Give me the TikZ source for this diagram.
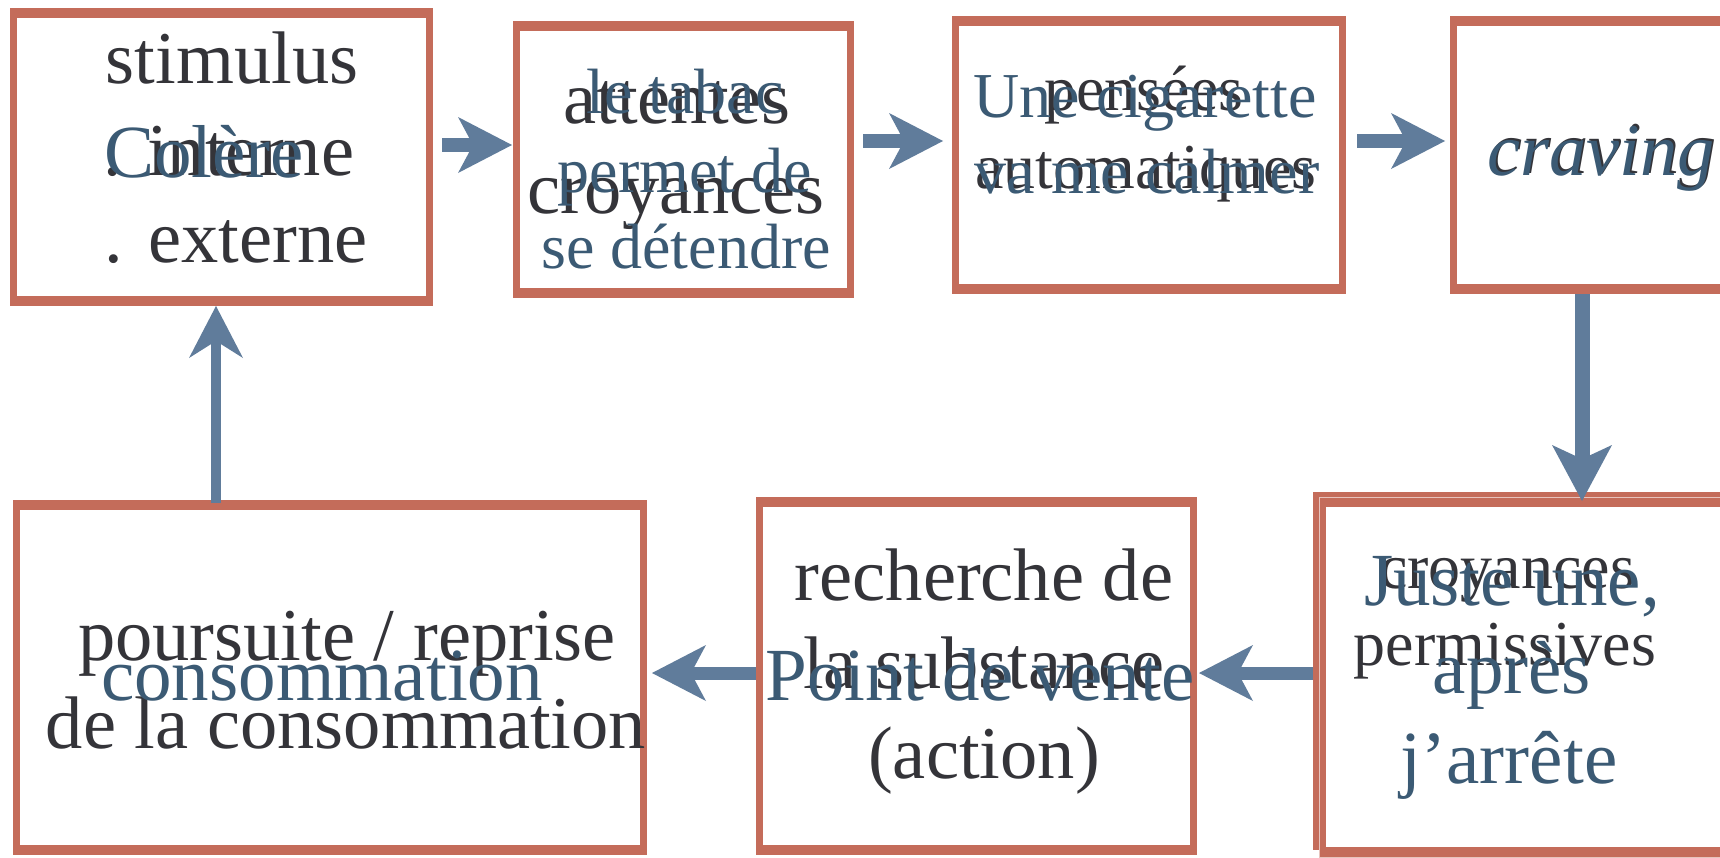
\documentclass[tikz,border=0pt]{standalone}
\usepackage{fontspec}
\setmainfont{Liberation Serif}
\usetikzlibrary{arrows.meta}
\definecolor{brd}{RGB}{196,108,90}
\definecolor{arr}{RGB}{96,124,155}
\definecolor{dk}{RGB}{52,52,57}
\definecolor{bl}{RGB}{59,90,116}
\begin{document}
\begin{tikzpicture}[x=1pt,y=-1pt,
  box/.style={rectangle, fill=brd, inner sep=0pt, outer sep=0pt,
    path picture={\fill[white] ([shift={(7pt,-10pt)}]path picture bounding box.north west) rectangle ([shift={(-7pt,10pt)}]path picture bounding box.south east);}},
  txt/.style={anchor=base, inner sep=0pt, outer sep=0pt},
  dkbig/.style={txt, text=dk, font=\fontsize{74.5}{88}\selectfont},
  dksmall/.style={txt, text=dk, font=\fontsize{64}{76}\selectfont},
  blbig/.style={txt, text=bl, font=\fontsize{75}{88}\selectfont},
  blsmall/.style={txt, text=bl, font=\fontsize{64}{76}\selectfont},
  harr/.style={draw=arr, line width=14pt, -{Stealth[length=54pt, width=56pt, inset=15pt, line width=0pt]}},
  varr/.style={draw=arr, line width=15pt, -{Stealth[length=56pt, width=60pt, inset=14pt, line width=0pt]}},
  uarr/.style={draw=arr, line width=10pt, -{Stealth[length=52pt, width=54pt, inset=17pt, line width=0pt]}}
]
\useasboundingbox (0,0) rectangle (1720,857);
\fill[white] (0,0) rectangle (1720,857);

% boxes
\node[box, minimum width=423pt, minimum height=298pt] (b1) at (221.5,157) {};
\node[box, minimum width=341pt, minimum height=277pt] (b2) at (683.5,159.5) {};
\node[box, minimum width=394pt, minimum height=278pt] (b3) at (1149,155) {};
\node[box, minimum width=310pt, minimum height=278pt] (b4) at (1605,155) {};
\node[box, minimum width=447pt, minimum height=358pt] (b5a) at (1536.5,671) {};
\node[box, minimum width=447pt, minimum height=360pt, draw=brd!40!white, line width=1pt] (b5b) at (1542.5,677) {};
\node[box, minimum width=441pt, minimum height=358pt] (b6) at (976.5,676) {};
\node[box, minimum width=634pt, minimum height=355pt] (b7) at (330,677.5) {};

% box 1
\node[dkbig] (t1a) at (232,83) {stimulus};
\node[dkbig] (t1b) at (229,175) {. interne};
\node[dkbig] (t1c) at (236,262) {. externe};
\node[blbig] (c1a) at (204,177) {Colère};

% box 2
\node[dkbig] (t2a) at (677,123) {attentes};
\node[dkbig] (t2b) at (676,213) {croyances};
\node[blsmall] (c2a) at (685,113) {le tabac};
\node[blsmall] (c2b) at (685,192) {permet de};
\node[blsmall] (c2c) at (686,268) {se détendre};

% box 3
\node[dksmall] (t3a) at (1144,110) {pensées};
\node[dksmall] (t3b) at (1146,188) {automatiques};
\node[blsmall] (c3a) at (1145,117) {Une cigarette};
\node[blsmall] (c3b) at (1147,193) {va me calmer};

% box 4
\node[dkbig, font=\fontsize{74.5}{88}\selectfont\itshape] (t4a) at (1603,173) {craving};
\node[blbig, font=\fontsize{74.5}{88}\selectfont\itshape] (c4a) at (1601,175) {craving};

% box 5
\node[dksmall] (t5a) at (1507,588) {croyances};
\node[dksmall] (t5b) at (1505,665) {permissives};
\node[blbig] (c5a) at (1512,605) {Juste une,};
\node[blbig] (c5b) at (1512,693) {après};
\node[blbig] (c5c) at (1509,783) {j’arrête};

% box 6
\node[dkbig] (t6a) at (984,600) {recherche de};
\node[dkbig] (t6b) at (984,688) {la substance};
\node[dkbig] (t6c) at (984,778) {(action)};
\node[blbig] (c6a) at (980,700) {Point de vente};

% box 7
\node[dkbig] (t7a) at (347,660) {poursuite / reprise};
\node[dkbig] (t7b) at (346,748) {de la consommation};
\node[blbig] (c7a) at (322,700) {consommation};

% connectors
\draw[harr, shorten <=9pt, shorten >=1pt] ([yshift=12pt]b1.east) -- ([yshift=14.5pt]b2.west);
\draw[harr, shorten <=9pt, shorten >=9pt] ([yshift=18.5pt]b2.east) -- ([yshift=14pt]b3.west);
\draw[harr, shorten <=11pt, shorten >=5pt] ([yshift=14pt]b3.east) -- ([yshift=14pt]b4.west);
\draw[varr, shorten >=-9pt] ([xshift=-23pt]b4.south) -- ([xshift=45.5pt]b5a.north);
\draw[harr, line width=13pt, shorten >=2pt] ([yshift=-2pt]b5a.west) -- ([yshift=3pt]b6.east);
\draw[harr, line width=13pt, shorten >=5pt] ([yshift=3pt]b6.west) -- ([yshift=4.5pt]b7.east);
\draw[uarr, shorten <=-3pt] ([xshift=-114pt]b7.north) -- ([xshift=-5.5pt]b1.south);
\end{tikzpicture}
\end{document}
